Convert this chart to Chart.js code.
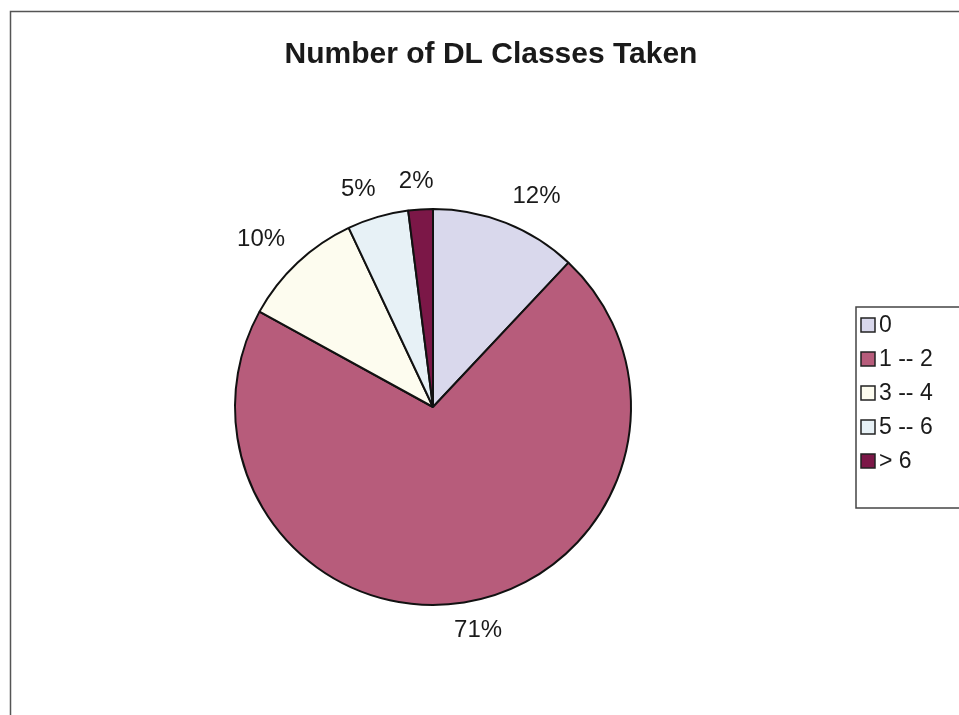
<!DOCTYPE html>
<html>
<head>
<meta charset="utf-8">
<title>Number of DL Classes Taken</title>
<script src="https://cdn.jsdelivr.net/npm/chart.js@4"></script>
<style>
  html, body { margin: 0; padding: 0; background: #fff; }
  #wrap { width: 959px; height: 715px; position: relative; }
</style>
</head>
<body>
<div id="wrap"><canvas id="dlChart" width="959" height="715"></canvas></div>
<script>
// Anzahl der belegten DL-Kurse (Anteile in %)
const categories = ["0", "1 -- 2", "3 -- 4", "5 -- 6", "> 6"];
const shares = [12, 71, 10, 5, 2];
const sliceColors = ["#d9d8ec", "#b75c7b", "#fdfcef", "#e7f1f6", "#7b1747"];
const chartTitle = "Number of DL Classes Taken";

const FONT = "'Liberation Sans', Arial, sans-serif";

const clamp = (v) => Math.max(-1, Math.min(1, v));

// Rahmen, Titel, Prozent-Beschriftungen und Legende werden von Hand gezeichnet
const decorations = {
    id: 'decorations',
    beforeDraw(chart) {
        const ctx = chart.ctx;
        ctx.save();
        ctx.fillStyle = '#fff';
        ctx.fillRect(0, 0, chart.width, chart.height);
        ctx.strokeStyle = '#555';
        ctx.lineWidth = 1.5;
        ctx.beginPath();
        ctx.moveTo(10.5, chart.height + 5);
        ctx.lineTo(10.5, 11.5);
        ctx.lineTo(chart.width + 5, 11.5);
        ctx.stroke();
        ctx.restore();
    },
    afterDraw(chart) {
        const ctx = chart.ctx;
        ctx.save();

        // Titel
        ctx.fillStyle = '#1a1a1a';
        ctx.font = "bold 30px " + FONT;
        ctx.textAlign = 'center';
        ctx.textBaseline = 'middle';
        ctx.fillText(chartTitle, 491, 55);

        // Prozentwerte außerhalb der Tortenstücke, Text vom Rand weg verankert
        ctx.font = "24px " + FONT;
        const meta = chart.getDatasetMeta(0);
        meta.data.forEach((arc, i) => {
            const mid = (arc.startAngle + arc.endAngle) / 2;
            const text = shares[i] + '%';
            const w = ctx.measureText(text).width;
            const cos = Math.cos(mid), sin = Math.sin(mid);
            const r = arc.outerRadius + 18;
            const x = arc.x + cos * r + (w / 2) * clamp(cos * 3);
            const y = arc.y + sin * r + 10 * clamp(sin * 3);
            ctx.fillText(text, x, y);
        });

        // Legende mit Rahmen
        const lx = 856, ly = 307, rowH = 34;
        ctx.strokeStyle = '#444';
        ctx.lineWidth = 1.5;
        ctx.strokeRect(lx, ly, 120, 201);
        ctx.textAlign = 'left';
        ctx.font = "23px " + FONT;
        categories.forEach((cat, i) => {
            const cy = ly + 18 + i * rowH;
            ctx.fillStyle = sliceColors[i];
            ctx.fillRect(861, cy - 7, 14, 14);
            ctx.strokeStyle = '#222';
            ctx.lineWidth = 1.5;
            ctx.strokeRect(861, cy - 7, 14, 14);
            ctx.fillStyle = '#1a1a1a';
            ctx.fillText(cat, 879, cy + 1);
        });
        ctx.restore();
    }
};

new Chart(document.getElementById('dlChart'), {
    type: 'pie',
    data: {
        labels: categories,
        datasets: [{
            data: shares,
            backgroundColor: sliceColors,
            borderColor: '#111',
            borderWidth: 2
        }]
    },
    options: {
        responsive: false,
        animation: false,
        layout: {
            padding: { left: 234, right: 327, top: 208, bottom: 109 }
        },
        plugins: {
            legend: { display: false },
            title: { display: false },
            tooltip: { enabled: false }
        }
    },
    plugins: [decorations]
});
</script>
</body>
</html>
